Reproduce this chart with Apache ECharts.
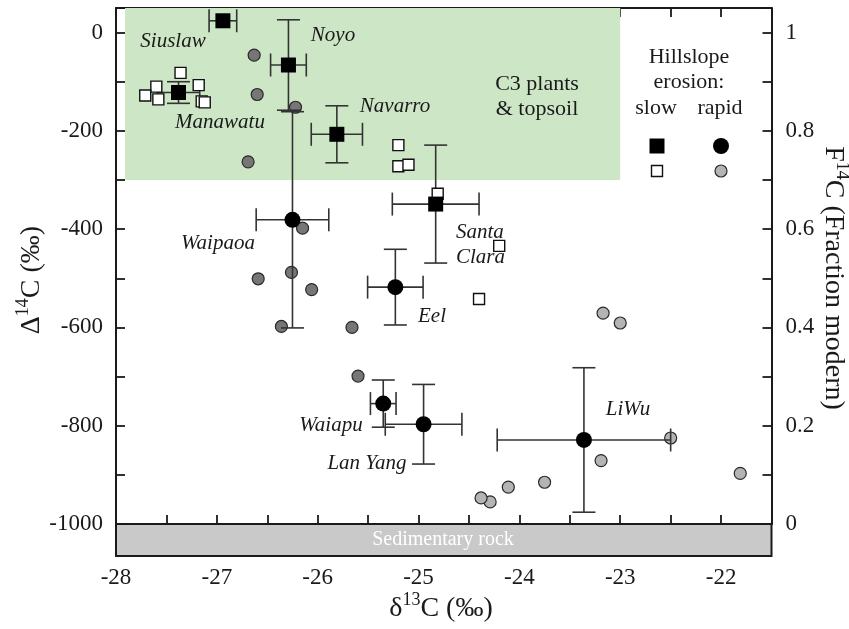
<!DOCTYPE html>
<html><head><meta charset="utf-8">
<script src="https://cdn.jsdelivr.net/npm/echarts@6/dist/echarts.min.js"></script>
<style>html,body{margin:0;padding:0;background:#fff}#c{width:849px;height:629px}</style>
</head><body><div id="c"></div>
<script>
// ---- data ----
const slowMeanNames = ['Siuslaw', 'Noyo', 'Manawatu', 'Navarro', 'Santa Clara'];
const slowMeanX = [-26.94, -26.29, -27.38, -25.81, -24.83];
const slowMeanY = [24, -66, -122, -207, -349];
const slowMeanXErr = [0.137, 0.177, 0.21, 0.254, 0.43];
const slowMeanYErr = [0, 92, 22, 58, 120];

const rapidMeanNames = ['Waipaoa', 'Eel', 'Waiapu', 'Lan Yang', 'LiWu'];
const rapidMeanX = [-26.25, -25.23, -25.35, -24.95, -23.36];
const rapidMeanY = [-381, -518, -755, -797, -829];
const rapidMeanXErr = [0.36, 0.275, 0.127, 0.38, 0.86];
const rapidMeanYErr = [220, 77, 48, 81, 147];

const slowSampleX = [-27.36, -27.60, -27.18, -27.71, -27.58, -27.15, -27.12, -25.20, -25.20, -25.10, -24.81, -24.20, -24.40];
const slowSampleY = [-82, -110, -107, -128, -136, -140, -142, -229, -272, -269, -328, -434, -542];

const rapidDarkX = [-26.63, -26.60, -26.22, -26.69, -26.15, -26.59, -26.26, -26.06, -26.36, -25.66, -25.60];
const rapidDarkY = [-46, -126, -152, -263, -398, -501, -488, -523, -598, -600, -699];

const rapidLightX = [-23.17, -23.00, -22.50, -23.19, -21.81, -23.75, -24.11, -24.29, -24.38];
const rapidLightY = [-571, -591, -825, -871, -897, -915, -925, -955, -947];

const c3Box = {x0: -27.91, x1: -23.0, y0: -300, y1: 50};
const xTicks = {min: -28, max: -21.5, step: 0.5};
const yTicks = {min: -1000, max: 50, step: 100};
const fTicks = {min: 0, max: 1.05, step: 0.1};

// ---- build ----
const zip = (a, b) => a.map((v, i) => [v, b[i]]);
const FONT = 'Liberation Serif';
const INK = '#1a1a1a';

const errData = [];
slowMeanX.forEach((x, i) => errData.push([x, slowMeanY[i], slowMeanXErr[i], slowMeanYErr[i]]));
rapidMeanX.forEach((x, i) => errData.push([x, rapidMeanY[i], rapidMeanXErr[i], rapidMeanYErr[i]]));

function renderErr(params, api) {
  const x = api.value(0), y = api.value(1), xe = api.value(2), ye = api.value(3);
  const h = 11.5;
  const st = {stroke: '#333', lineWidth: 1.6};
  const ch = [];
  if (xe > 0) {
    const l = api.coord([x - xe, y]), r = api.coord([x + xe, y]);
    ch.push({type: 'line', shape: {x1: l[0], y1: l[1], x2: r[0], y2: r[1]}, style: st});
    ch.push({type: 'line', shape: {x1: l[0], y1: l[1] - h, x2: l[0], y2: l[1] + h}, style: st});
    ch.push({type: 'line', shape: {x1: r[0], y1: r[1] - h, x2: r[0], y2: r[1] + h}, style: st});
  }
  if (ye > 0) {
    const t = api.coord([x, y + ye]), b = api.coord([x, y - ye]);
    ch.push({type: 'line', shape: {x1: t[0], y1: t[1], x2: b[0], y2: b[1]}, style: st});
    ch.push({type: 'line', shape: {x1: t[0] - h, y1: t[1], x2: t[0] + h, y2: t[1]}, style: st});
    ch.push({type: 'line', shape: {x1: b[0] - h, y1: b[1], x2: b[0] + h, y2: b[1]}, style: st});
  }
  return {type: 'group', children: ch};
}

const labelFmtX = v => (Math.abs(v - Math.round(v)) < 1e-6 ? String(Math.round(v)) : '');
const labelFmtY = v => (Math.abs(v % 200) < 1e-6 && v <= 0 ? String(v) : '');
const labelFmtF = v => {
  const r = Math.round(v * 10);
  if (Math.abs(v * 10 - r) > 1e-6) return '';
  return r % 2 === 0 ? String(r / 10) : '';
};

const tickStyle = {show: true, inside: true, length: 9, lineStyle: {color: INK, width: 1.8}};
const lineStyle = {show: true, onZero: false, lineStyle: {color: INK, width: 2}};
const lblStyle = {fontFamily: FONT, fontSize: 23, color: INK};

function txt(x, y, s, opts) {
  return {type: 'text', x: x, y: y, z: 100,
    style: Object.assign({text: s, fontFamily: FONT, fontSize: 21, fill: INK,
      align: 'center', verticalAlign: 'middle'}, opts || {})};
}
const ital = {fontStyle: 'italic'};
const titleRich = {
  n: {fontFamily: FONT, fontSize: 28, fill: INK, verticalAlign: 'bottom', lineHeight: 32},
  s: {fontFamily: FONT, fontSize: 18, fill: INK, verticalAlign: 'top', lineHeight: 32}
};

const option = {
  backgroundColor: '#fff',
  animation: false,
  grid: [
    {left: 116, right: 77.5, top: 8, height: 516},
    {left: 116, right: 77.5, top: 524, height: 32, show: true, backgroundColor: '#c9c9c9', borderColor: INK, borderWidth: 2}
  ],
  xAxis: [
    {gridIndex: 0, type: 'value', position: 'bottom', min: xTicks.min, max: xTicks.max, interval: xTicks.step,
      axisLine: lineStyle, axisTick: tickStyle, axisLabel: {show: false}, splitLine: {show: false}},
    {gridIndex: 0, type: 'value', position: 'top', min: xTicks.min, max: xTicks.max, interval: xTicks.step,
      axisLine: lineStyle, axisTick: tickStyle, axisLabel: {show: false}, splitLine: {show: false}},
    {gridIndex: 1, type: 'value', position: 'bottom', min: xTicks.min, max: xTicks.max, interval: xTicks.step,
      axisLine: {show: false}, axisTick: {show: false},
      axisLabel: Object.assign({formatter: labelFmtX, margin: 10, showMinLabel: true, showMaxLabel: true}, lblStyle),
      splitLine: {show: false}}
  ],
  yAxis: [
    {gridIndex: 0, type: 'value', position: 'left', min: yTicks.min, max: yTicks.max, interval: yTicks.step,
      axisLine: lineStyle, axisTick: tickStyle,
      axisLabel: Object.assign({formatter: labelFmtY, margin: 13}, lblStyle), splitLine: {show: false}},
    {gridIndex: 0, type: 'value', position: 'right', min: fTicks.min, max: fTicks.max, interval: fTicks.step,
      axisLine: lineStyle, axisTick: tickStyle,
      axisLabel: Object.assign({formatter: labelFmtF, margin: 14}, lblStyle), splitLine: {show: false}},
    {gridIndex: 1, type: 'value', min: 0, max: 1, show: false}
  ],
  series: [
    {type: 'scatter', xAxisIndex: 0, yAxisIndex: 0, data: [], z: 1,
      markArea: {silent: true, itemStyle: {color: '#cde6c6'},
        data: [[{coord: [c3Box.x0, c3Box.y0]}, {coord: [c3Box.x1, c3Box.y1]}]]}},
    {name: 'rapid samples NZ', type: 'scatter', xAxisIndex: 0, yAxisIndex: 0, z: 3,
      data: zip(rapidDarkX, rapidDarkY), symbol: 'circle', symbolSize: 12,
      itemStyle: {color: '#767676', borderColor: '#2a2a2a', borderWidth: 1.2, opacity: 1}},
    {name: 'rapid samples TW', type: 'scatter', xAxisIndex: 0, yAxisIndex: 0, z: 3,
      data: zip(rapidLightX, rapidLightY), symbol: 'circle', symbolSize: 12,
      itemStyle: {color: '#b4b4b4', borderColor: '#2a2a2a', borderWidth: 1.2, opacity: 1}},
    {name: 'errors', type: 'custom', xAxisIndex: 0, yAxisIndex: 0, z: 4,
      data: errData, renderItem: renderErr, clip: false},
    {name: 'slow samples', type: 'scatter', xAxisIndex: 0, yAxisIndex: 0, z: 5,
      data: zip(slowSampleX, slowSampleY), symbol: 'rect', symbolSize: 11,
      itemStyle: {color: '#fff', borderColor: '#111', borderWidth: 1.4, opacity: 1}},
    {name: 'slow means', type: 'scatter', xAxisIndex: 0, yAxisIndex: 0, z: 6,
      data: zip(slowMeanX, slowMeanY), symbol: 'rect', symbolSize: 15,
      itemStyle: {color: '#000', opacity: 1}},
    {name: 'rapid means', type: 'scatter', xAxisIndex: 0, yAxisIndex: 0, z: 6,
      data: zip(rapidMeanX, rapidMeanY), symbol: 'circle', symbolSize: 16,
      itemStyle: {color: '#000', opacity: 1}}
  ],
  graphic: [
    txt(173, 41, 'Siuslaw', ital),
    txt(333, 35, 'Noyo', ital),
    txt(220, 122, 'Manawatu', ital),
    txt(395, 106, 'Navarro', ital),
    txt(218, 243, 'Waipaoa', ital),
    txt(456, 232, 'Santa', Object.assign({align: 'left'}, ital)),
    txt(456, 257, 'Clara', Object.assign({align: 'left'}, ital)),
    txt(432, 316, 'Eel', ital),
    txt(331, 425, 'Waiapu', ital),
    txt(367, 463, 'Lan Yang', ital),
    txt(628, 409, 'LiWu', ital),
    txt(537, 84, 'C3 plants', {fontSize: 22}),
    txt(537, 109, '& topsoil', {fontSize: 22}),
    txt(689, 57, 'Hillslope', {fontSize: 22}),
    txt(689, 82, 'erosion:', {fontSize: 22}),
    txt(656, 108, 'slow', {fontSize: 22}),
    txt(720, 108, 'rapid', {fontSize: 22}),
    {type: 'rect', x: 649.5, y: 138.5, shape: {width: 15, height: 15}, style: {fill: '#000'}, z: 100},
    {type: 'circle', x: 721, y: 146, shape: {r: 8}, style: {fill: '#000'}, z: 100},
    {type: 'rect', x: 651.5, y: 165.5, shape: {width: 11, height: 11}, style: {fill: '#fff', stroke: '#111', lineWidth: 1.4}, z: 100},
    {type: 'circle', x: 721, y: 171, shape: {r: 6}, style: {fill: '#b4b4b4', stroke: '#2a2a2a', lineWidth: 1.2}, z: 100},
    txt(443, 540, 'Sedimentary rock', {fontSize: 20, fill: '#fff'}),
    {type: 'text', x: 441, y: 607, z: 100, style: {text: '{n|δ}{s|13}{n|C (‰)}', align: 'center', verticalAlign: 'middle', rich: titleRich}},
    {type: 'text', x: 30, y: 280, rotation: Math.PI / 2, z: 100, style: {text: '{n|Δ}{s|14}{n|C (‰)}', align: 'center', verticalAlign: 'middle', rich: titleRich}},
    {type: 'text', x: 835, y: 278, rotation: -Math.PI / 2, z: 100, style: {text: '{n|F}{s|14}{n|C (Fraction modern)}', align: 'center', verticalAlign: 'middle', rich: titleRich}}
  ]
};

const chart = echarts.init(document.getElementById('c'), null, {renderer: 'canvas'});
chart.setOption(option);
</script>
</body></html>
